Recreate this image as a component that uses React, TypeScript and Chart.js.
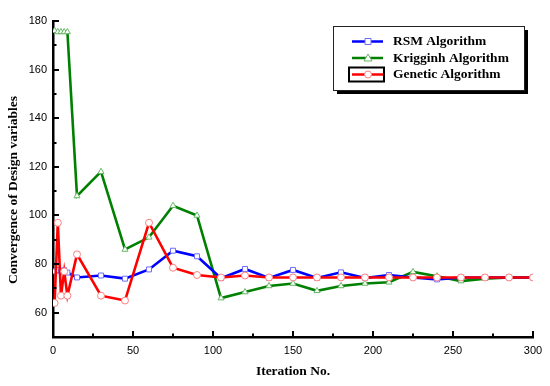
import { useEffect, useRef } from "react";
import { Chart, registerables } from "chart.js";

Chart.register(...registerables);

const iterations = [1, 3, 5, 7, 9, 15, 30, 45, 60, 75, 90, 105, 120, 135, 150, 165, 180, 195, 210, 225, 240, 255, 270, 285, 300];
const rsmValues = [77, 77.5, 77, 77.5, 76.5, 74.5, 75.3, 74, 77.8, 85.5, 83.2, 74.2, 78, 74.3, 77.6, 74.3, 76.6, 74.3, 75.5, 74.5, 73.7, 74.5, 74.5, 74.5, 74.5];
const krigingValues = [176, 175.5, 175.5, 175.5, 175.5, 108, 118, 86, 91, 104, 100, 66, 68.5, 71, 72, 69, 71, 72, 72.5, 76.8, 75, 73, 74, 74.5, 74.5];
const geneticValues = [64, 97, 67, 77, 67, 84, 67, 65, 97, 78.5, 75.5, 74.5, 75.3, 74.5, 74.5, 74.5, 74.5, 74.5, 74.5, 74.5, 74.5, 74.5, 74.5, 74.5, 74.5];
const seriesNames = ["RSM Algorithm", "Krigginh Algorithm", "Genetic Algorithm"];
const xTickLabels = [0, 50, 100, 150, 200, 250, 300];
const yTickLabels = [60, 80, 100, 120, 140, 160, 180];
const xTitle = "Iteration No.";
const yTitle = "Convergence of Design variables";

const lineColors = ["#0000ff", "#008000", "#ff0000"];
const markerColors = ["#6b6bff", "#66b866", "#ff8080"];
const markerStyles = ["rect", "triangle", "circle"];

const toPoints = (vals: number[]) => vals.map((v, i) => ({ x: iterations[i], y: v }));

const decorPlugin = {
  id: "decor",
  afterDraw(chart: any) {
    const { ctx, chartArea } = chart;
    const xs = chart.scales.x;
    const ys = chart.scales.y;
    ctx.save();
    ctx.strokeStyle = "#000";
    ctx.lineWidth = 2;
    // inward ticks
    for (let v = 0; v <= 300; v += 25) {
      const px = Math.round(xs.getPixelForValue(v));
      const len = v % 50 === 0 ? 6 : 3.5;
      ctx.beginPath();
      ctx.moveTo(px, chartArea.bottom);
      ctx.lineTo(px, chartArea.bottom - len);
      ctx.stroke();
    }
    for (let v = 50; v <= 180; v += 10) {
      const py = Math.round(ys.getPixelForValue(v));
      const len = v % 20 === 0 ? 6 : 3.5;
      ctx.beginPath();
      ctx.moveTo(chartArea.left, py);
      ctx.lineTo(chartArea.left + len, py);
      ctx.stroke();
    }
    // axis titles
    ctx.fillStyle = "#000";
    ctx.font = "bold 13.5px 'Liberation Serif', 'Times New Roman', serif";
    ctx.textAlign = "center";
    ctx.textBaseline = "middle";
    ctx.fillText(xTitle, (chartArea.left + chartArea.right) / 2, 372);
    ctx.save();
    ctx.translate(14, 190);
    ctx.rotate(-Math.PI / 2);
    ctx.fillText(yTitle, 0, 0);
    ctx.restore();

    // legend
    const bx = 333, by = 26, bw = 191, bh = 64;
    ctx.fillStyle = "#000";
    ctx.fillRect(bx + 4, by + 4, bw, bh);
    ctx.fillStyle = "#fff";
    ctx.fillRect(bx, by, bw, bh);
    ctx.strokeStyle = "#222";
    ctx.lineWidth = 1;
    ctx.strokeRect(bx + 0.5, by + 0.5, bw, bh);
    const rows = [41.5, 58, 74.5];
    seriesNames.forEach((name, i) => {
      const ry = rows[i];
      ctx.strokeStyle = lineColors[i];
      ctx.lineWidth = 2.5;
      ctx.beginPath();
      ctx.moveTo(352, ry);
      ctx.lineTo(383, ry);
      ctx.stroke();
      ctx.fillStyle = "#fff";
      ctx.strokeStyle = markerColors[i];
      ctx.lineWidth = 1;
      ctx.beginPath();
      if (i === 0) {
        ctx.rect(365, ry - 3, 6, 6);
      } else if (i === 1) {
        ctx.moveTo(368, ry - 4);
        ctx.lineTo(372, ry + 3);
        ctx.lineTo(364, ry + 3);
        ctx.closePath();
      } else {
        ctx.arc(368, ry, 3.5, 0, Math.PI * 2);
      }
      ctx.fill();
      ctx.stroke();
      if (i === 2) {
        ctx.strokeStyle = "#000";
        ctx.lineWidth = 2;
        ctx.strokeRect(349, ry - 7, 35, 14);
      }
      ctx.fillStyle = "#000";
      ctx.font = "bold 13.5px 'Liberation Serif', 'Times New Roman', serif";
      ctx.textAlign = "left";
      ctx.textBaseline = "middle";
      ctx.fillText(name, 393, ry + 0.5);
    });
    ctx.restore();
  },
};

export default function App() {
  const canvasRef = useRef<HTMLCanvasElement | null>(null);

  useEffect(() => {
    const canvas = canvasRef.current;
    if (!canvas) return;
    const series = [rsmValues, krigingValues, geneticValues];
    const orders = [1, 2, 0];
    const chart = new Chart(canvas, {
      type: "line",
      data: {
        datasets: series.map((vals, i) => ({
          label: seriesNames[i],
          data: toPoints(vals),
          borderColor: lineColors[i],
          borderWidth: 2.6,
          pointStyle: markerStyles[i] as any,
          pointRadius: 3.5,
          pointBorderWidth: 1,
          pointBorderColor: markerColors[i],
          pointBackgroundColor: "#fff",
          tension: 0,
          order: orders[i],
        })),
      },
      options: {
        animation: false,
        responsive: false,
        devicePixelRatio: 1,
        layout: { padding: { top: 21, right: 17, left: 0, bottom: 0 } },
        plugins: { legend: { display: false }, tooltip: { enabled: false } },
        scales: {
          x: {
            type: "linear",
            min: 0,
            max: 300,
            grid: { display: false, drawTicks: false },
            border: { display: true, color: "#000", width: 2.5 },
            ticks: {
              stepSize: 50,
              autoSkip: false,
              maxRotation: 0,
              padding: 7,
              color: "#000",
              font: { family: "'Liberation Sans', Arial, sans-serif", size: 11 },
              callback: (v: any) => (xTickLabels.includes(Number(v)) ? String(v) : ""),
            },
            afterFit: (s: any) => {
              s.height = 49;
            },
          },
          y: {
            type: "linear",
            min: 50,
            max: 180,
            grid: { display: false, drawTicks: false },
            border: { display: true, color: "#000", width: 2.5 },
            ticks: {
              stepSize: 10,
              autoSkip: false,
              padding: 6,
              color: "#000",
              font: { family: "'Liberation Sans', Arial, sans-serif", size: 11 },
              callback: (v: any) => (yTickLabels.includes(Number(v)) ? String(v) : ""),
            },
            afterFit: (s: any) => {
              s.width = 53;
            },
          },
        },
      },
      plugins: [decorPlugin],
    });
    return () => chart.destroy();
  }, []);

  return (
    <div style={{ position: "absolute", left: 0, top: 0, width: 550, height: 386, background: "#fff" }}>
      <canvas ref={canvasRef} width={550} height={386} />
    </div>
  );
}
